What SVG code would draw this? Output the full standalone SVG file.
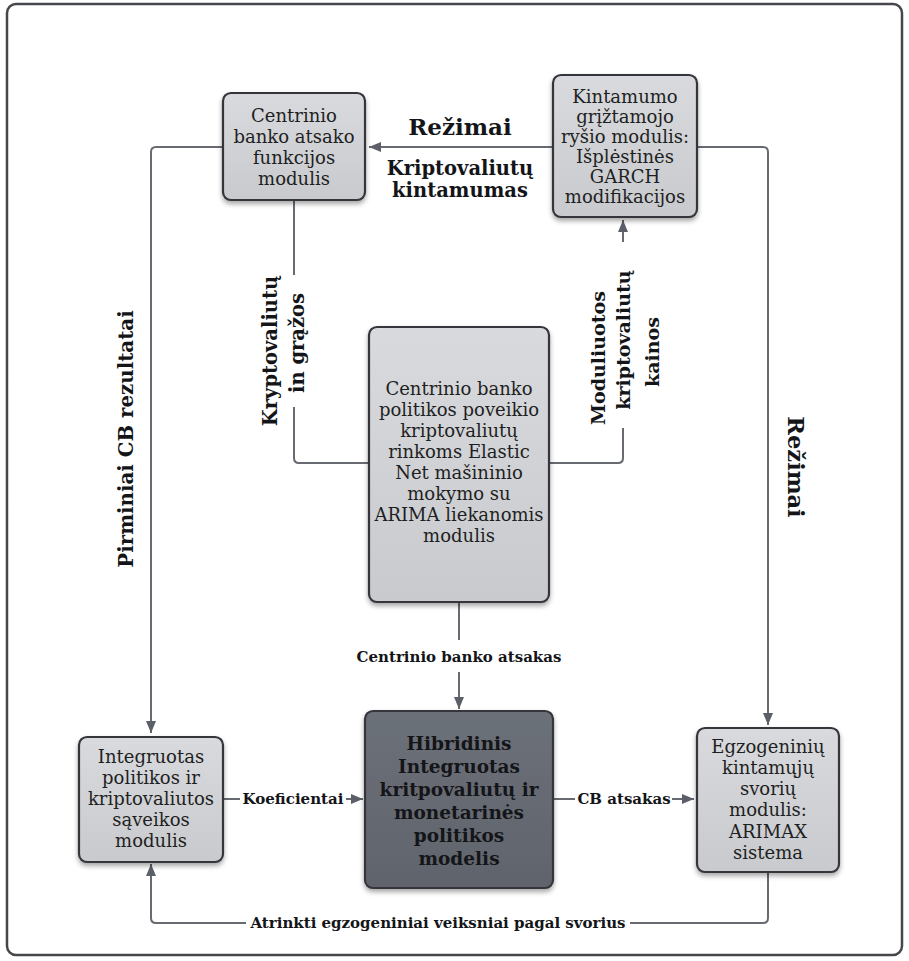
<svg xmlns="http://www.w3.org/2000/svg" width="909" height="961" viewBox="0 0 909 961">
<defs>
<style>
.node{stroke:#34363a;stroke-width:2.2;filter:url(#sh)}
.light{fill:url(#gl)}
.dark{fill:url(#gd)}
.nt{font-family:"DejaVu Serif","Liberation Serif",serif;font-size:18px;fill:#1e1f22;text-anchor:middle}
.nb{font-family:"DejaVu Serif","Liberation Serif",serif;font-size:18.5px;font-weight:bold;fill:#141518;text-anchor:middle}
.lb{font-family:"DejaVu Serif","Liberation Serif",serif;font-weight:bold;fill:#141518;text-anchor:middle}
.conn{fill:none;stroke:#676a71;stroke-width:2}
.bg{fill:#ffffff}
</style>
<linearGradient id="gl" x1="0" y1="0" x2="0" y2="1"><stop offset="0" stop-color="#d9dadd"/><stop offset="1" stop-color="#c9cace"/></linearGradient>
<linearGradient id="gd" x1="0" y1="0" x2="0" y2="1"><stop offset="0" stop-color="#6c7078"/><stop offset="1" stop-color="#60646c"/></linearGradient>
<filter id="sh" x="-20%" y="-20%" width="140%" height="140%"><feDropShadow dx="0" dy="3" stdDeviation="2.5" flood-color="#000" flood-opacity="0.35"/></filter>
<marker id="ar" markerUnits="userSpaceOnUse" markerWidth="12" markerHeight="10" refX="12" refY="5" orient="auto"><path d="M0,0 L12,5 L0,10 z" fill="#5b5f67"/></marker>
</defs>
<rect x="0" y="0" width="909" height="961" fill="#ffffff"/>
<rect x="7" y="4" width="895" height="951" rx="9" fill="#ffffff" stroke="#45474b" stroke-width="2.5"/>
<g id="connectors">
<path class="conn" d="M553,147 H369" marker-end="url(#ar)"/>
<path class="conn" d="M222,147 H156 Q151,147 151,152 V733" marker-end="url(#ar)"/>
<path class="conn" d="M294,200 V458 Q294,463 299,463 H369"/>
<path class="conn" d="M549,463 H618 Q623,463 623,458 V220" marker-end="url(#ar)"/>
<path class="conn" d="M697,147 H763 Q768,147 768,152 V725" marker-end="url(#ar)"/>
<path class="conn" d="M459,602 V709" marker-end="url(#ar)"/>
<path class="conn" d="M223,799 H363" marker-end="url(#ar)"/>
<path class="conn" d="M553,799 H694" marker-end="url(#ar)"/>
<path class="conn" d="M768,872 V918 Q768,923 763,923 H156 Q151,923 151,918 V864" marker-end="url(#ar)"/>
</g>
<g id="labels">
<text class="lb" x="460" y="135" font-size="23">Režimai</text>
<text class="lb" x="460" y="175" font-size="19.5">Kriptovaliutų</text>
<text class="lb" x="460" y="197" font-size="19.5">kintamumas</text>
<text class="lb" font-size="19.8" transform="translate(133,439) rotate(-90)">Pirminiai CB rezultatai</text>
<rect class="bg" x="286" y="275" width="20" height="132"/>
<text class="lb" font-size="19.5" transform="translate(277,351) rotate(-90)">Kryptovaliutų</text>
<text class="lb" font-size="19.5" transform="translate(304,343) rotate(-90)">in grąžos</text>
<rect class="bg" x="612" y="242" width="20" height="186"/>
<text class="lb" font-size="19" transform="translate(605,358) rotate(-90)">Moduliuotos</text>
<text class="lb" font-size="19" transform="translate(630,340) rotate(-90)">kriptovaliutų</text>
<text class="lb" font-size="19" transform="translate(659,352) rotate(-90)">kainos</text>
<text class="lb" font-size="22.5" transform="translate(788,467) rotate(90)">Režimai</text>
<rect class="bg" x="352" y="640" width="214" height="32"/>
<text class="lb" x="459" y="662" font-size="15">Centrinio banko atsakas</text>
<rect class="bg" x="240" y="788" width="106" height="22"/>
<text class="lb" x="293" y="804" font-size="15">Koeficientai</text>
<rect class="bg" x="575" y="788" width="97" height="22"/>
<text class="lb" x="624" y="804" font-size="15">CB atsakas</text>
<rect class="bg" x="246" y="912" width="384" height="22"/>
<text class="lb" x="438" y="928" font-size="15">Atrinkti egzogeniniai veiksniai pagal svorius</text>
</g>
<g id="node-cb-funkcijos">
<rect class="node light" x="223" y="93" width="142" height="107" rx="8"/>
<text class="nt" x="294" y="122">Centrinio</text>
<text class="nt" x="294" y="143">banko atsako</text>
<text class="nt" x="294" y="164">funkcijos</text>
<text class="nt" x="294" y="185">modulis</text>
</g>
<g id="node-garch">
<rect class="node light" x="553" y="75" width="144" height="142" rx="8"/>
<text class="nt" x="625" y="103">Kintamumo</text>
<text class="nt" x="625" y="123">grįžtamojo</text>
<text class="nt" x="625" y="143">ryšio modulis:</text>
<text class="nt" x="625" y="163">Išplėstinės</text>
<text class="nt" x="625" y="183">GARCH</text>
<text class="nt" x="625" y="203">modifikacijos</text>
</g>
<g id="node-elastic-net">
<rect class="node light" x="369" y="327" width="180" height="275" rx="8"/>
<text class="nt" x="459" y="395">Centrinio banko</text>
<text class="nt" x="459" y="416">politikos poveikio</text>
<text class="nt" x="459" y="437">kriptovaliutų</text>
<text class="nt" x="459" y="458">rinkoms Elastic</text>
<text class="nt" x="459" y="479">Net mašininio</text>
<text class="nt" x="459" y="500">mokymo su</text>
<text class="nt" x="459" y="521">ARIMA liekanomis</text>
<text class="nt" x="459" y="542">modulis</text>
</g>
<g id="node-hibridinis">
<rect class="node dark" x="365" y="711" width="188" height="177" rx="8"/>
<text class="nb" x="459" y="750">Hibridinis</text>
<text class="nb" x="459" y="773">Integruotas</text>
<text class="nb" x="459" y="796">kritpovaliutų ir</text>
<text class="nb" x="459" y="819">monetarinės</text>
<text class="nb" x="459" y="842">politikos</text>
<text class="nb" x="459" y="865">modelis</text>
</g>
<g id="node-integruotas">
<rect class="node light" x="79" y="737" width="144" height="125" rx="8"/>
<text class="nt" x="151" y="763">Integruotas</text>
<text class="nt" x="151" y="784">politikos ir</text>
<text class="nt" x="151" y="805">kriptovaliutos</text>
<text class="nt" x="151" y="826">sąveikos</text>
<text class="nt" x="151" y="847">modulis</text>
</g>
<g id="node-arimax">
<rect class="node light" x="697" y="728" width="142" height="144" rx="8"/>
<text class="nt" x="768" y="753">Egzogeninių</text>
<text class="nt" x="768" y="774">kintamųjų</text>
<text class="nt" x="768" y="795">svorių</text>
<text class="nt" x="768" y="816">modulis:</text>
<text class="nt" x="768" y="838">ARIMAX</text>
<text class="nt" x="768" y="859">sistema</text>
</g>
</svg>
